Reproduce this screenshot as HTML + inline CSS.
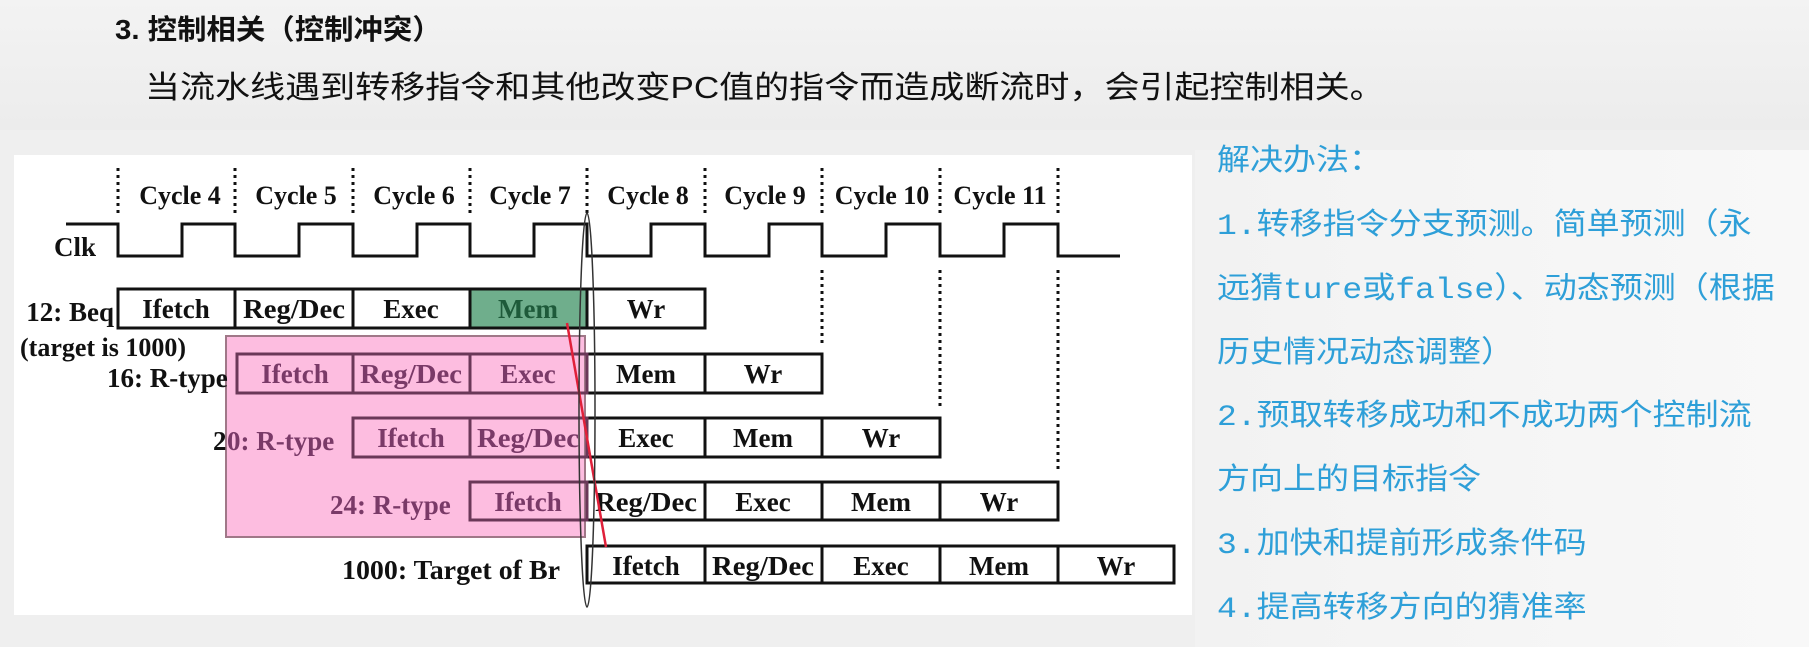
<!DOCTYPE html>
<html><head><meta charset="utf-8"><style>
html,body{margin:0;padding:0}
body{width:1809px;height:647px;overflow:hidden;background:#efefef;position:relative;font-family:"Liberation Sans","Noto Sans CJK SC",sans-serif}
.t{position:absolute;white-space:nowrap;transform-origin:0 50%}
.r{color:#2e9fd8;font-family:"Liberation Mono","Noto Sans CJK SC",sans-serif;font-size:30px;transform:scaleX(1.1);line-height:40px}
</style></head><body>
<div style="position:absolute;left:0;top:0;width:1809px;height:130px;background:linear-gradient(#f3f3f3,#ececec)"></div>
<div style="position:absolute;left:1195px;top:150px;width:614px;height:497px;background:linear-gradient(90deg,#f2f2f2,#f8f8f8)"></div>
<div style="position:absolute;left:14px;top:155px;width:1178px;height:460px;background:#fff"></div>
<div class="t" style="left:115px;top:8px;font-size:28px;font-weight:bold;color:#111;transform:scaleX(1.05)">3. 控制相关（控制冲突）</div>
<div class="t" style="left:145px;top:62px;font-size:31px;color:#111;transform:scaleX(1.13)">当流水线遇到转移指令和其他改变PC值的指令而造成断流时，会引起控制相关。</div>
<div class="t r" style="left:1217px;top:143px">解决办法：</div>
<div class="t r" style="left:1217px;top:207px">1.转移指令分支预测。简单预测（永</div>
<div class="t r" style="left:1217px;top:271px">远猜ture或false）、动态预测（根据</div>
<div class="t r" style="left:1217px;top:335px">历史情况动态调整）</div>
<div class="t r" style="left:1217px;top:398px">2.预取转移成功和不成功两个控制流</div>
<div class="t r" style="left:1217px;top:462px">方向上的目标指令</div>
<div class="t r" style="left:1217px;top:526px">3.加快和提前形成条件码</div>
<div class="t r" style="left:1217px;top:590px">4.提高转移方向的猜准率</div>
<svg width="1809" height="647" style="position:absolute;left:0;top:0" font-family="Liberation Serif, serif" font-weight="bold" font-size="27">
<g stroke="#111" stroke-width="3" stroke-dasharray="3,4">
<line x1="118" y1="168" x2="118" y2="215"/><line x1="235" y1="168" x2="235" y2="215"/><line x1="353" y1="168" x2="353" y2="215"/><line x1="470" y1="168" x2="470" y2="215"/><line x1="587" y1="168" x2="587" y2="215"/><line x1="705" y1="168" x2="705" y2="215"/><line x1="822" y1="168" x2="822" y2="215"/><line x1="940" y1="168" x2="940" y2="215"/><line x1="1058" y1="168" x2="1058" y2="215"/>
<line x1="822" y1="270" x2="822" y2="343"/><line x1="940" y1="270" x2="940" y2="408"/><line x1="1058" y1="270" x2="1058" y2="472"/>
</g>
<g fill="#111" text-anchor="middle" font-size="26">
<text x="180" y="204">Cycle 4</text><text x="296" y="204">Cycle 5</text><text x="414" y="204">Cycle 6</text><text x="530" y="204">Cycle 7</text><text x="648" y="204">Cycle 8</text><text x="765" y="204">Cycle 9</text><text x="882" y="204">Cycle 10</text><text x="1000" y="204">Cycle 11</text>
</g>
<text x="54" y="256" fill="#111">Clk</text>
<path d="M66,224H118V256H182V224H235V256H299V224H353V256H417V224H470V256H534V224H587V256H651V224H705V256H769V224H822V256H886V224H940V256H1004V224H1058V256H1120" fill="none" stroke="#111" stroke-width="3"/>
<rect x="226" y="336" width="359" height="201" fill="#fdbde0" stroke="#a07888" stroke-width="2"/>
<g stroke="#111" stroke-width="3" fill="#fff">
<rect x="118" y="289" width="117" height="39"/><rect x="235" y="289" width="118" height="39"/><rect x="353" y="289" width="117" height="39"/><rect x="470" y="289" width="117" height="39" fill="#6fae8c"/><rect x="587" y="289" width="118" height="39"/>
<rect x="587" y="354" width="118" height="39"/><rect x="705" y="354" width="117" height="39"/>
<rect x="587" y="418" width="118" height="39"/><rect x="705" y="418" width="117" height="39"/><rect x="822" y="418" width="118" height="39"/>
<rect x="587" y="482" width="118" height="38"/><rect x="705" y="482" width="117" height="38"/><rect x="822" y="482" width="118" height="38"/><rect x="940" y="482" width="118" height="38"/>
<rect x="587" y="546" width="118" height="37"/><rect x="705" y="546" width="117" height="37"/><rect x="822" y="546" width="118" height="37"/><rect x="940" y="546" width="118" height="37"/><rect x="1058" y="546" width="116" height="37"/>
</g>
<g stroke="#6a3858" stroke-width="3" fill="none">
<rect x="237" y="354" width="116" height="39"/><rect x="353" y="354" width="117" height="39"/><rect x="470" y="354" width="117" height="39"/>
<rect x="353" y="418" width="117" height="39"/><rect x="470" y="418" width="117" height="39"/>
<rect x="470" y="482" width="117" height="38"/>
</g>
<g text-anchor="middle" fill="#111">
<text x="176" y="318">Ifetch</text><text x="294" y="318" textLength="102" lengthAdjust="spacingAndGlyphs">Reg/Dec</text><text x="411" y="318">Exec</text><text x="528" y="318" fill="#1e5a3a">Mem</text><text x="646" y="318">Wr</text>
<text x="646" y="383">Mem</text><text x="763" y="383">Wr</text>
<text x="646" y="447">Exec</text><text x="763" y="447">Mem</text><text x="881" y="447">Wr</text>
<text x="646" y="511" textLength="102" lengthAdjust="spacingAndGlyphs">Reg/Dec</text><text x="763" y="511">Exec</text><text x="881" y="511">Mem</text><text x="999" y="511">Wr</text>
<text x="646" y="575">Ifetch</text><text x="763" y="575" textLength="102" lengthAdjust="spacingAndGlyphs">Reg/Dec</text><text x="881" y="575">Exec</text><text x="999" y="575">Mem</text><text x="1116" y="575">Wr</text>
</g>
<g text-anchor="middle" fill="#7a3a68">
<text x="295" y="383">Ifetch</text><text x="411" y="383" textLength="102" lengthAdjust="spacingAndGlyphs">Reg/Dec</text><text x="528" y="383">Exec</text>
<text x="411" y="447">Ifetch</text><text x="528" y="447" textLength="102" lengthAdjust="spacingAndGlyphs">Reg/Dec</text>
<text x="528" y="511">Ifetch</text>
</g>
<text x="114" y="321" text-anchor="end" fill="#111">12: Beq</text>
<text x="20" y="356" fill="#111" font-size="26">(target is 1000)</text>
<text x="107" y="387" fill="#111">16: R-type</text>
<text x="213" y="450" fill="#111">2</text><text x="227" y="450" fill="#7a3a68">0: R-type</text>
<text x="330" y="514" fill="#7a3a68">24: R-type</text>
<text x="342" y="579" fill="#111" textLength="218" lengthAdjust="spacingAndGlyphs">1000: Target of Br</text>
<line x1="567" y1="323" x2="606" y2="547" stroke="#e0203a" stroke-width="2.5"/>
<ellipse cx="587" cy="410" rx="8" ry="197" fill="none" stroke="#333" stroke-width="1.5"/>
</svg>
</body></html>
